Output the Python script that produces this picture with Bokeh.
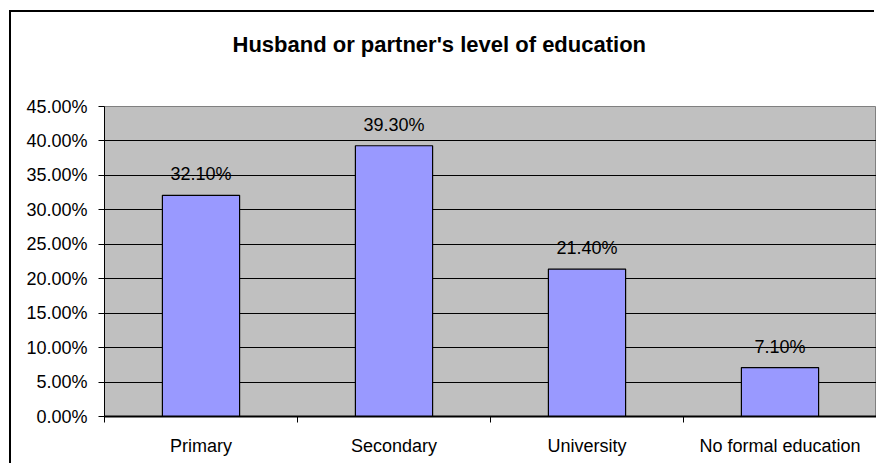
from bokeh.plotting import figure
from bokeh.models import (ColumnDataSource, Range1d, FixedTicker, PrintfTickFormatter,
                          LabelSet, Title)
from bokeh.core.properties import value
from bokeh.embed import file_html
from bokeh.resources import INLINE
import numpy as np

title_text = "Husband or partner's level of education"
categories = ["Primary", "Secondary", "University", "No formal education"]
values = [32.1, 39.3, 21.4, 7.1]
labels = ["32.10%", "39.30%", "21.40%", "7.10%"]
y_ticks = [0, 5, 10, 15, 20, 25, 30, 35, 40, 45]

x = np.arange(len(categories)) + 0.5
src = ColumnDataSource(dict(x=x, top=values, label=labels))

p = figure(width=865, height=453, output_backend="svg", toolbar_location=None,
           x_range=Range1d(0, len(categories)), y_range=Range1d(0, 45),
           min_border_left=93, min_border_right=0, min_border_top=94, min_border_bottom=49,
           title_location=None)
p.margin = (12, 0, 0, 11)
p.styles = {"box-shadow": "-2px -2px 0px 0px black"}

p.background_fill_color = "#C0C0C0"
p.border_fill_color = "white"
p.outline_line_color = "#808080"
p.outline_line_width = 1

p.vbar(x="x", top="top", width=0.4, bottom=0, source=src,
       fill_color="#9999FF", line_color="black", line_width=1.2)

p.add_layout(LabelSet(x="x", y="top", text="label", source=src, text_align="center",
                      text_baseline="alphabetic", y_offset=15,
                      text_font=value("Liberation Sans"),
                      text_font_size=value("18px"), text_color="black"))

# spacer title (nearest the frame), then the real title above it
p.add_layout(Title(text=" ", text_font_size="2px", standoff=29), "above")
p.add_layout(Title(text=title_text, text_font="Liberation Sans", text_font_size="22px",
                   text_font_style="bold", text_color="black", align="left", offset=128,
                   vertical_align="top", standoff=30), "above")

# y axis
p.yaxis.ticker = FixedTicker(ticks=y_ticks)
p.yaxis.formatter = PrintfTickFormatter(format="%.2f%%")
p.yaxis.major_label_text_font = "Liberation Sans"
p.yaxis.major_label_text_font_size = "18px"
p.yaxis.major_label_text_color = "black"
p.yaxis.major_tick_out = 6
p.yaxis.major_tick_in = 0
p.yaxis.minor_tick_line_color = None
p.yaxis.major_label_standoff = 11
p.yaxis.axis_line_color = "black"
p.yaxis.major_tick_line_color = "black"

# x axis
p.xaxis.ticker = FixedTicker(ticks=list(x), minor_ticks=list(range(len(categories) + 1)))
p.xaxis.major_label_overrides = {float(xi): c for xi, c in zip(x, categories)}
p.xaxis.major_tick_line_color = None
p.xaxis.minor_tick_line_color = "black"
p.xaxis.minor_tick_out = 6
p.xaxis.minor_tick_in = 0
p.xaxis.major_label_text_font = "Liberation Sans"
p.xaxis.major_label_text_font_size = "18px"
p.xaxis.major_label_text_color = "black"
p.xaxis.major_label_standoff = 13
p.xaxis.axis_line_color = "black"
p.xaxis.axis_line_width = 2

p.xgrid.grid_line_color = None
p.ygrid.ticker = FixedTicker(ticks=y_ticks)
p.ygrid.grid_line_color = "black"
p.ygrid.grid_line_width = 1

open("out.html", "w").write(file_html(p, INLINE))
